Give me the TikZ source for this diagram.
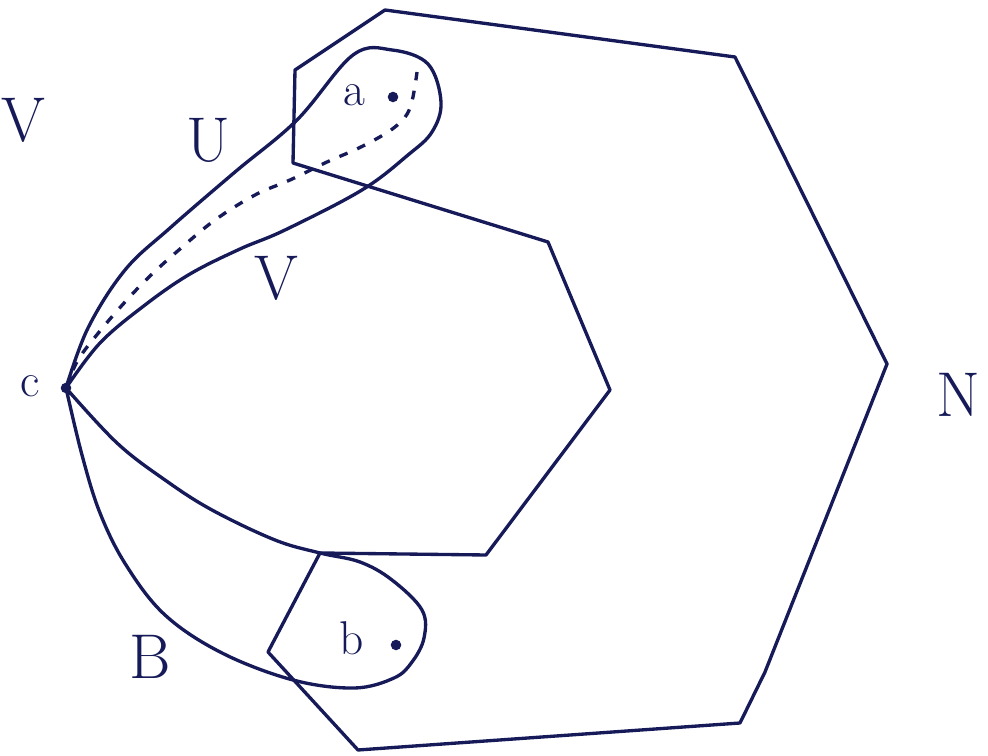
\documentclass[tikz,border=0pt]{standalone}
\usetikzlibrary{positioning}
\definecolor{ink}{RGB}{22,26,88}

\begin{document}
\begin{tikzpicture}[x=0.02cm, y=-0.02cm,
    region/.style={draw=ink, line width=1.9pt, line join=round, line cap=round},
    dashline/.style={draw=ink, line width=1.9pt, dash pattern=on 5pt off 6pt},
    dot/.style={circle, fill=ink, inner sep=0pt, minimum size=6pt},
    big/.style={text=ink, inner sep=0pt, font=\fontsize{36}{38}\selectfont},
    small/.style={text=ink, inner sep=0pt, font=\fontsize{27}{29}\selectfont},
]
    \useasboundingbox (0,0) rectangle (988,756);

    % --- corners of N ---
    \coordinate (n1)  at (385,10);
    \coordinate (n2)  at (735,57);
    \coordinate (n3)  at (887,364);
    \coordinate (n4)  at (765,672);
    \coordinate (n5)  at (740,723);
    \coordinate (n6)  at (358,750);
    \coordinate (n7)  at (268,652);
    \coordinate (n8)  at (320,553);
    \coordinate (n9)  at (486,555);
    \coordinate (n10) at (610,390);
    \coordinate (n11) at (548,242);
    \coordinate (n12) at (293,163);
    \coordinate (n13) at (295,70);

    \draw[region] (n1) -- (n2) -- (n3) -- (n4) -- (n5) -- (n6) -- (n7)
        -- (n8) -- (n9) -- (n10) -- (n11) -- (n12) -- (n13) -- cycle;

    % --- points ---
    \node[dot] (c) at (66,388) {};
    \node[dot] (a) at (393,97) {};
    \node[dot] (b) at (396,645) {};

    % U: loop round a
    \draw[region] plot[smooth, tension=0.6] coordinates {
        (c.center) (88,328) (125,270) (170,228) (235,172) (297,120)
        (353,55) (392,50) (428,64) (441,102) (432,132) (408,155)
        (362,190) (285,230) (240,249) (190,274) (145,305)
        (100,343) (c.center)};
    \draw[dashline] plot[smooth, tension=0.6] coordinates {
        (c.center) (78,360) (100,331) (125,302) (150,276) (180,249)
        (215,220) (255,195) (290,180) (327,162) (363,146)
        (395,127) (410,108) (417,72)};

    % B: loop round b
    \draw[region] plot[smooth, tension=0.6] coordinates {
        (c.center) (117,443) (165,480) (212,510) (275,540) (320,553)
        (360,562) (392,580) (422,610) (424,638) (412,662) (394,678)
        (354,688) (293,680) (222,653) (165,615) (126,565) (100,513)
        (82,455) (c.center)};

    % --- labels ---
    \node[big]   (lblW) at (23,120)  {V};
    \node[big]   (lblU) at (208,140) {U};
    \node[big]   (lblV) at (276,278) {V};
    \node[big]   (lblN) at (958,395) {N};
    \node[big]   (lblB) at (150,657) {B};
    \node[small] (lblc) at (30,386)  {c};
    \node[small] (lbla) at (354,95)  {a};
    \node[small] (lblb) at (352,638) {b};
\end{tikzpicture}
\end{document}
